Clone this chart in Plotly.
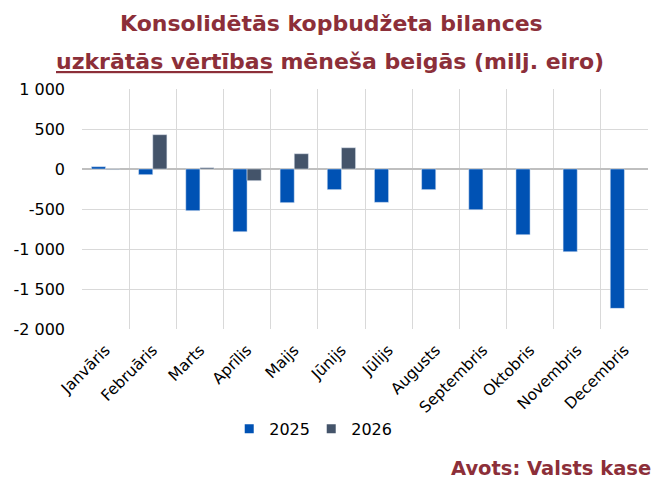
import plotly.graph_objects as go

months = ["Janvāris", "Februāris", "Marts", "Aprīlis", "Maijs", "Jūnijs",
          "Jūlijs", "Augusts", "Septembris", "Oktobris", "Novembris", "Decembris"]
v2025 = [29, -71, -521, -784, -421, -258, -417, -258, -509, -821, -1034, -1742]
v2026 = [-8, 429, 16, -146, 191, 266, None, None, None, None, None, None]
ytick_vals = [1000, 500, 0, -500, -1000, -1500, -2000]
ytick_text = ["1 000", "500", "0", "-500", "-1 000", "-1 500", "-2 000"]

TITLE_COLOR = "#8C2F39"
C2025 = "#0052B4"
C2026 = "#44546A"
FONT = "DejaVu Sans"

fig = go.Figure()
fig.add_trace(go.Bar(x=months, y=v2025, name="2025", marker_color=C2025, showlegend=False))
fig.add_trace(go.Bar(x=months, y=v2026, name="2026", marker_color=C2026, showlegend=False))
# legend entries with small square symbols
for nm, col in (("2025", C2025), ("2026", C2026)):
    fig.add_trace(go.Scatter(x=[None], y=[None], mode="markers", name=nm,
                             marker=dict(symbol="square", size=9, color=col)))

fig.update_layout(
    width=661, height=484,
    margin=dict(l=82, r=13, t=89, b=155),
    paper_bgcolor="white", plot_bgcolor="white",
    barmode="group", bargap=0.4, bargroupgap=0,
    font=dict(family=FONT, size=15, color="#000000"),
    showlegend=True,
    legend=dict(orientation="h", x=0.405, xanchor="center", y=-0.345, yanchor="top",
                font=dict(size=16), itemwidth=30, traceorder="normal",
                entrywidth=37, entrywidthmode="pixels"),
    xaxis=dict(type="category", tickson="boundaries", showgrid=True, gridcolor="#D9D9D9",
               gridwidth=1, tickangle=-45, tickfont=dict(size=15.5), ticks="",
               showline=False, zeroline=False, ticklabelstandoff=8),
    yaxis=dict(range=[-2000, 1000], tickvals=ytick_vals, ticktext=ytick_text,
               showgrid=True, gridcolor="#D9D9D9", gridwidth=1,
               zeroline=True, zerolinecolor="#BFBFBF", zerolinewidth=2,
               tickfont=dict(size=16), ticks="", ticklabelstandoff=16),
    annotations=[
        dict(text="<b>Konsolidētās kopbudžeta bilances</b>", x=0.5, y=22, xref="paper",
             yref="paper", showarrow=False, font=dict(size=22, color=TITLE_COLOR)),
        dict(text="<b><u>uzkrātās vērtības</u> mēneša beigās (milj. eiro)</b>", x=0.5,
             showarrow=False, xref="paper", yref="paper",
             font=dict(size=22, color=TITLE_COLOR)),
        dict(text="<b>Avots: Valsts kase</b>", x=1, y=0, showarrow=False,
             xref="paper", yref="paper", font=dict(size=19.5, color=TITLE_COLOR)),
    ],
)

# position annotations in paper coords computed from pixel positions
plot_top, plot_h, plot_left, plot_w = 89, 240, 82, 566
def py(pix):
    return (plot_top + plot_h - pix) / plot_h
def px(pix):
    return (pix - plot_left) / plot_w

fig.layout.annotations[0].update(x=px(331), y=py(23), yanchor="middle")
fig.layout.annotations[1].update(x=px(330), y=py(62), yanchor="middle")
fig.layout.annotations[2].update(x=px(653), y=py(468), xanchor="right", yanchor="middle")

fig.write_html("out.html")
